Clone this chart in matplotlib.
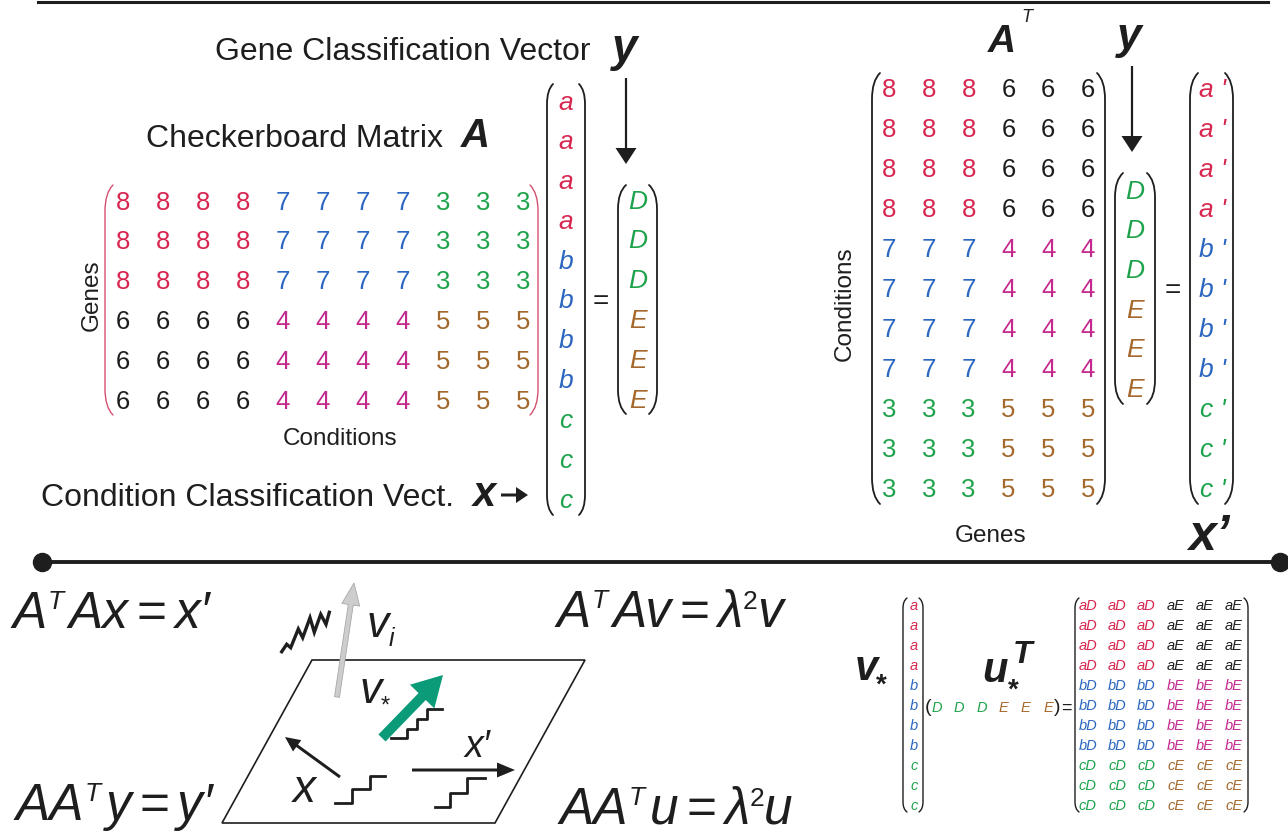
import matplotlib.pyplot as plt
from matplotlib.path import Path
from matplotlib.patches import PathPatch, Polygon

plt.rcParams["font.family"] = ["Liberation Sans", "DejaVu Sans"]

RED = "#d7264f"
BLUE = "#2b67c1"
GREEN = "#1ea34c"
BLACK = "#1e1e1e"
MAGENTA = "#c42a8e"
BROWN = "#a5682c"
TEAL = "#0c9b78"

# checkerboard matrix A (genes x conditions)
MATRIX_A = [
    [8, 8, 8, 8, 7, 7, 7, 7, 3, 3, 3],
    [8, 8, 8, 8, 7, 7, 7, 7, 3, 3, 3],
    [8, 8, 8, 8, 7, 7, 7, 7, 3, 3, 3],
    [6, 6, 6, 6, 4, 4, 4, 4, 5, 5, 5],
    [6, 6, 6, 6, 4, 4, 4, 4, 5, 5, 5],
    [6, 6, 6, 6, 4, 4, 4, 4, 5, 5, 5],
]
COND_CLASSES = ["a", "a", "a", "a", "b", "b", "b", "b", "c", "c", "c"]
GENE_CLASSES = ["D", "D", "D", "E", "E", "E"]

VALUE_COLORS = {8: RED, 7: BLUE, 3: GREEN, 6: BLACK, 4: MAGENTA, 5: BROWN}
LETTER_COLORS = {"a": RED, "b": BLUE, "c": GREEN, "D": GREEN, "E": BROWN}
PRODUCT_COLORS = {"aD": RED, "aE": BLACK, "bD": BLUE, "bE": MAGENTA, "cD": GREEN, "cE": BROWN}

# equations as (text, size, rise, gap before, style)
EQ_BIG = 37
EQ_SUP = 19
EQ_LEFT_TOP = [("A", EQ_BIG, 0, 0, "italic"), ("T", EQ_SUP, 19, 0, "italic"),
               ("Ax", EQ_BIG, 0, 5, "italic"), ("=", EQ_BIG, 0, 8, "normal"),
               ("x", EQ_BIG, 0, 8, "italic"), ("\u2032", EQ_BIG, 0, -1, "italic")]
EQ_LEFT_BOT = [("AA", EQ_BIG, 0, 0, "italic"), ("T", EQ_SUP, 19, 0, "italic"),
               ("y", EQ_BIG, 0, 5, "italic"), ("=", EQ_BIG, 0, 8, "normal"),
               ("y", EQ_BIG, 0, 8, "italic"), ("\u2032", EQ_BIG, 0, -1, "italic")]
EQ_RIGHT_TOP = [("A", EQ_BIG, 0, 0, "italic"), ("T", EQ_SUP, 19, 0, "italic"),
                ("Av", EQ_BIG, 0, 5, "italic"), ("=", EQ_BIG, 0, 8, "normal"),
                ("\u03bb", EQ_BIG, 0, 8, "italic"), ("2", EQ_SUP, 18, 0, "normal"),
                ("v", EQ_BIG, 0, 0, "italic")]
EQ_RIGHT_BOT = [("AA", EQ_BIG, 0, 0, "italic"), ("T", EQ_SUP, 19, 0, "italic"),
                ("u", EQ_BIG, 0, 5, "italic"), ("=", EQ_BIG, 0, 8, "normal"),
                ("\u03bb", EQ_BIG, 0, 8, "italic"), ("2", EQ_SUP, 18, 0, "normal"),
                ("u", EQ_BIG, 0, 0, "italic")]


def paren(ax, x, y0, y1, side, color=BLACK, lw=1.3, bow=8, curl=24):
    s = 1 if side == "left" else -1
    verts = [(x + s * bow, y0), (x, y0 + curl * 0.3), (x, y0 + curl),
             (x, y1 - curl), (x, y1 - curl * 0.3), (x + s * bow, y1)]
    codes = [Path.MOVETO, Path.CURVE3, Path.CURVE3, Path.LINETO, Path.CURVE3, Path.CURVE3]
    ax.add_patch(PathPatch(Path(verts, codes), fill=False, ec=color, lw=lw, capstyle="round"))


def brackets(ax, x_left, x_right, y0, y1, **kw):
    paren(ax, x_left, y0, y1, "left", **kw)
    paren(ax, x_right, y0, y1, "right", **kw)


def arrow(ax, x0, y0, x1, y1, width, head_w, head_l, fc=BLACK, ec=None, lw=0):
    ax.arrow(x0, y0, x1 - x0, y1 - y0, width=width, head_width=head_w, head_length=head_l,
             length_includes_head=True, fc=fc, ec=ec or fc, lw=lw)


def grid_text(ax, rows, x0, dx, y0, dy, colors, size, style="normal"):
    for i, row in enumerate(rows):
        for j, val in enumerate(row):
            ax.text(x0 + j * dx, y0 + i * dy, str(val), color=colors[val], fontsize=size,
                    style=style, ha="center", va="center_baseline")


def column_text(ax, items, x, y0, dy, colors, size, suffix=""):
    for i, item in enumerate(items):
        ax.text(x, y0 + i * dy, item + suffix, color=colors[item], fontsize=size,
                style="italic", ha="center", va="center_baseline")


def equation(ax, renderer, x, base, pieces):
    # lay pieces out left to right; axes units are pixels
    for text, size, rise, gap, style in pieces:
        x += gap
        t = ax.text(x, base - rise, text, fontsize=size, style=style, color=BLACK)
        x += t.get_window_extent(renderer).width


def draw_top_left(ax):
    ax.text(215, 60, "Gene Classification Vector", fontsize=23, color=BLACK)
    ax.text(612, 61, "y", fontsize=33, weight="bold", style="italic", color=BLACK)
    arrow(ax, 626, 78, 626, 164, 2.2, 21, 16)

    ax.text(146, 147, "Checkerboard Matrix", fontsize=23, color=BLACK)
    ax.text(461, 147, "A", fontsize=29, weight="bold", style="italic", color=BLACK)

    grid_text(ax, MATRIX_A, 123, 40, 200, 39.8, VALUE_COLORS, 18.5)
    brackets(ax, 105, 538, 185, 415, color="#d4506e", lw=1.0, bow=8, curl=26)
    ax.text(92, 295, "Genes", fontsize=17.5, rotation=90, ha="center", va="center", color=BLACK)
    ax.text(340, 439, "Conditions", fontsize=17.5, ha="center", va="center", color=BLACK)

    column_text(ax, COND_CLASSES, 566, 100, 39.8, LETTER_COLORS, 19)
    brackets(ax, 547, 585, 84, 515, bow=6, curl=20)
    ax.text(601, 299, "=", fontsize=20, ha="center", va="center_baseline", color=BLACK)

    column_text(ax, GENE_CLASSES, 638, 199, 39.8, LETTER_COLORS, 19)
    brackets(ax, 618, 657, 185, 414, bow=8, curl=24)

    ax.text(41, 506, "Condition Classification Vect.", fontsize=23, color=BLACK)
    ax.text(473, 506, "x", fontsize=30, weight="bold", style="italic", color=BLACK)
    arrow(ax, 501, 495, 528, 495, 3, 16, 12)


def draw_top_right(ax):
    ax.text(988, 52, "A", fontsize=28, weight="bold", style="italic", color=BLACK)
    ax.text(1021, 22, "T", fontsize=13, style="italic", color=BLACK)
    ax.text(1117, 49, "y", fontsize=32, weight="bold", style="italic", color=BLACK)
    arrow(ax, 1132, 66, 1132, 152, 2.2, 21, 16)

    a_t = [list(col) for col in zip(*MATRIX_A)]
    grid_text(ax, a_t, 889, 39.8, 87.5, 40, VALUE_COLORS, 18.5)
    brackets(ax, 872, 1105, 73, 504, bow=8, curl=26)
    ax.text(845, 304, "Conditions", fontsize=17.5, rotation=90, ha="center", va="center", color=BLACK)
    ax.text(991, 536, "Genes", fontsize=17.5, ha="center", va="center", color=BLACK)

    column_text(ax, GENE_CLASSES, 1135, 189, 39.7, LETTER_COLORS, 19)
    brackets(ax, 1115, 1155, 173, 404, bow=8, curl=24)
    ax.text(1173, 288, "=", fontsize=20, ha="center", va="center_baseline", color=BLACK)

    column_text(ax, COND_CLASSES, 1213, 87.5, 40, LETTER_COLORS, 19, suffix=" '")
    brackets(ax, 1190, 1233, 73, 504, bow=8, curl=26)
    ax.text(1188, 550, "x\u2019", fontsize=36, weight="bold", style="italic", color=BLACK)


def draw_bottom_left(ax, renderer):
    equation(ax, renderer, 13, 628, EQ_LEFT_TOP)
    equation(ax, renderer, 557, 627, EQ_RIGHT_TOP)
    equation(ax, renderer, 16, 820, EQ_LEFT_BOT)
    equation(ax, renderer, 560, 824, EQ_RIGHT_BOT)

    # the plane
    ax.add_patch(Polygon([(312, 660), (585, 660), (495, 823), (222, 823)], closed=True,
                         fill=False, ec=BLACK, lw=1.2))

    # noisy vector v_i sticking out of the plane
    arrow(ax, 337, 697, 354, 583, 5, 18, 22, fc="#cdcdcd", ec="#a8a8a8", lw=0.6)
    zig_x = [281.7, 286.7, 290.7, 298.3, 302.7, 310.0, 314.3, 320.7, 326.0, 329.3]
    zig_y = [651.7, 644.3, 647.7, 629.0, 637.7, 617.7, 632.3, 614.3, 624.3, 612.3]
    ax.plot(zig_x, zig_y, color=BLACK, lw=2.4, solid_joinstyle="miter")
    ax.text(367, 637, "v", fontsize=32, style="italic", color=BLACK)
    ax.text(389, 646, "i", fontsize=18, style="italic", color=BLACK)

    # dominant vector v_* in the plane
    arrow(ax, 382, 738, 443, 675, 10, 34, 30, fc=TEAL)
    ax.text(360, 703, "v", fontsize=32, style="italic", color=BLACK)
    ax.text(381, 713, "*", fontsize=17, color=BLACK)
    ax.plot([391, 407, 407, 417, 417, 427, 427, 442],
            [738, 738, 729, 729, 719, 719, 709, 709], color=BLACK, lw=2)

    arrow(ax, 340, 777, 285, 737, 3, 14, 15)
    ax.text(293, 802, "x", fontsize=33, style="italic", color=BLACK)
    ax.plot([335, 352, 352, 370, 370, 385], [803, 803, 789, 789, 776, 776], color=BLACK, lw=2)

    arrow(ax, 412, 770, 515, 770, 3, 15, 18)
    ax.text(465, 757, "x\u2032", fontsize=27, style="italic", color=BLACK)
    ax.plot([435, 450, 450, 467, 467, 485], [807, 807, 793, 793, 778, 778], color=BLACK, lw=2)


def draw_bottom_right(ax):
    ax.text(855, 680, "v", fontsize=30, weight="bold", style="italic", color=BLACK)
    ax.text(881, 693, "*", fontsize=20, weight="bold", ha="center", color=BLACK)
    ax.text(982, 682, "u", fontsize=30, weight="bold", style="italic", color=BLACK)
    ax.text(1013, 663, "T", fontsize=23, weight="bold", style="italic", color=BLACK)
    ax.text(1013, 698, "*", fontsize=20, weight="bold", ha="center", color=BLACK)

    column_text(ax, COND_CLASSES, 914, 605, 20, LETTER_COLORS, 10.5)
    brackets(ax, 903, 923, 598, 812, bow=4, curl=10, lw=1.0)

    ax.text(928, 706, "(", fontsize=14, ha="center", va="center_baseline", color=BLACK)
    for j, g in enumerate(GENE_CLASSES):
        ax.text(937 + j * 22.2, 706, g, fontsize=10.5, style="italic", color=LETTER_COLORS[g],
                ha="center", va="center_baseline")
    ax.text(1057, 706, ")", fontsize=14, ha="center", va="center_baseline", color=BLACK)
    ax.text(1066, 706, "=", fontsize=13, ha="center", va="center_baseline", color=BLACK)

    product = [[c + g for g in GENE_CLASSES] for c in COND_CLASSES]
    grid_text(ax, product, 1088, 29.2, 605, 20, PRODUCT_COLORS, 10.5, style="italic")
    brackets(ax, 1075, 1248, 598, 812, bow=4, curl=10, lw=1.0)


fig = plt.figure(figsize=(12.88, 8.34), dpi=100)
ax = fig.add_axes([0, 0, 1, 1])
ax.set_xlim(0, 1288)
ax.set_ylim(834, 0)
ax.axis("off")
renderer = fig.canvas.get_renderer()

# frame lines
ax.plot([38, 1268], [1.5, 1.5], color=BLACK, lw=2.2)
ax.plot([42, 1280], [562, 562], color=BLACK, lw=2.8)
ax.plot([42, 1280], [562, 562], "o", color=BLACK, ms=13)

draw_top_left(ax)
draw_top_right(ax)
draw_bottom_left(ax, renderer)
draw_bottom_right(ax)

ax.set_xlim(0, 1288)
ax.set_ylim(834, 0)
fig.savefig("out.png", dpi=100)
